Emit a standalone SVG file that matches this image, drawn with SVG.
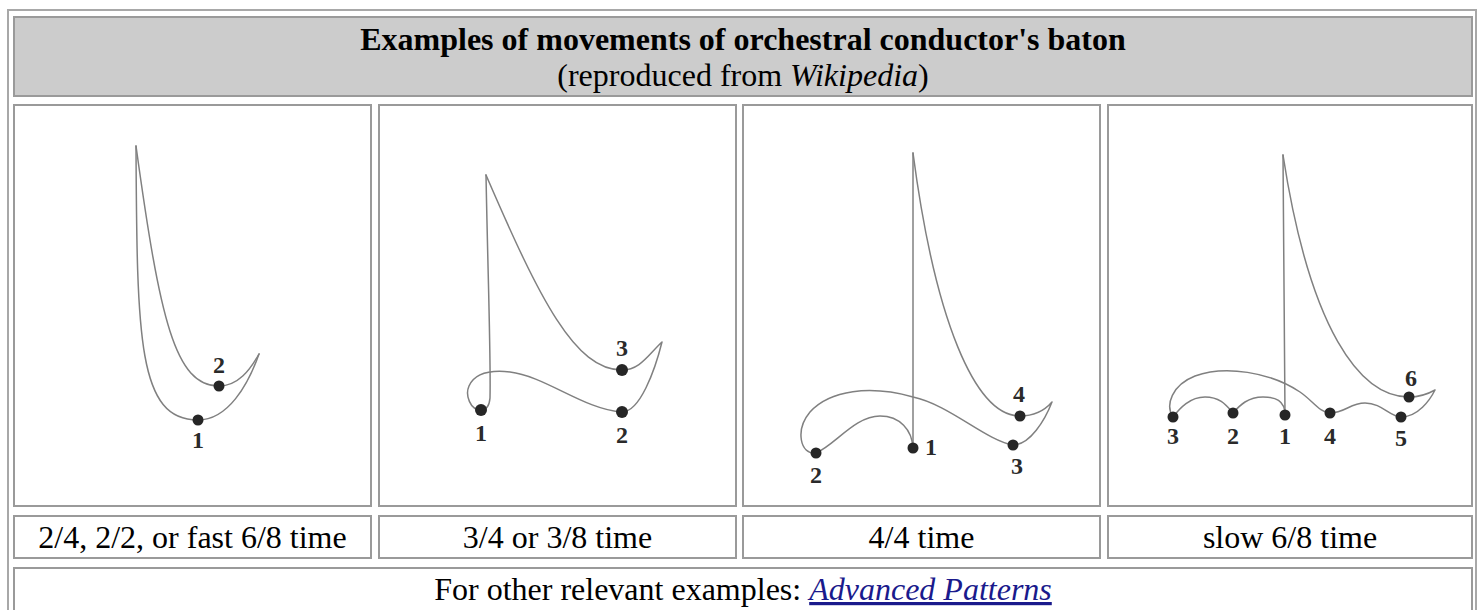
<svg xmlns="http://www.w3.org/2000/svg" width="1482" height="610" viewBox="0 0 1482 610">
<style>
.cell{fill:#ffffff;stroke:#9a9a9a;stroke-width:2}
.hdr{fill:#cccccc;stroke:#9a9a9a;stroke-width:2}
.t{font-family:"Liberation Serif","Times New Roman",serif;font-size:32px;fill:#000;text-anchor:middle}
.b{stroke:#808080;stroke-width:1.5;fill:none;stroke-linecap:round;stroke-linejoin:round}
.d{fill:#262626}
.n{font-family:"Liberation Serif","Times New Roman",serif;font-weight:bold;font-size:24px;fill:#2a2a2a;text-anchor:middle}
.lnk{fill:#1a1a8c;font-style:italic;text-decoration:underline}
</style>
<rect x="0" y="0" width="1482" height="610" fill="#ffffff"/>
<g id="table">
<rect x="8" y="10" width="1468" height="620" fill="#ffffff" stroke="#a8a8a8" stroke-width="2"/>
</g>
<g id="header">
<rect class="hdr" x="14" y="17" width="1458" height="79"/>
<text class="t" x="743" y="50" font-weight="bold">Examples of movements of orchestral conductor's baton</text>
<text class="t" x="743" y="86">(reproduced from <tspan font-style="italic">Wikipedia</tspan>)</text>
</g>
<g id="panel1">
<rect class="cell" x="14" y="105" width="357" height="401"/>
<path class="b" d="M136,146 C137,340 138,420 198,420 C228,420 248,385 259,354"/>
<path class="b" d="M136,146 C160,320 175,386 219,386 C238,386 250,370 259,354"/>
<circle class="d" cx="198" cy="420" r="5.5"/>
<circle class="d" cx="219" cy="386" r="5.5"/>
<text class="n" x="198" y="448">1</text>
<text class="n" x="219" y="373">2</text>
</g>
<g id="panel2">
<rect class="cell" x="379" y="105" width="357" height="401"/>
<path class="b" d="M486,175 C488,280 491,360 490,398 Q489,410 481,410"/>
<path class="b" d="M481,410 C470,410 465,395 469,386 C475,373 492,370 510,372 C545,376 585,410 622,412 C640,412 655,370 662,342 C648,355 640,370 622,370 C575,370 540,300 486,175"/>
<circle class="d" cx="481" cy="410" r="6"/>
<circle class="d" cx="622" cy="412" r="6"/>
<circle class="d" cx="622" cy="370" r="6"/>
<text class="n" x="481" y="441">1</text>
<text class="n" x="622" y="443">2</text>
<text class="n" x="622" y="356">3</text>
</g>
<g id="panel3">
<rect class="cell" x="743" y="105" width="357" height="401"/>
<path class="b" d="M913,153 L913,448"/>
<path class="b" d="M913,448 C912,430 900,416 880,416 C855,416 835,445 816,453 C800,455 795,430 810,412 C830,390 870,385 913,397 C950,405 985,440 1013,445 C1030,445 1045,420 1052,402 C1045,410 1035,416 1020,416 C975,416 935,320 913,153"/>
<circle class="d" cx="913" cy="448" r="5.5"/>
<circle class="d" cx="816" cy="453" r="5.5"/>
<circle class="d" cx="1013" cy="445" r="5.5"/>
<circle class="d" cx="1020" cy="416" r="5.5"/>
<text class="n" x="931" y="455">1</text>
<text class="n" x="816" y="483">2</text>
<text class="n" x="1017" y="474">3</text>
<text class="n" x="1019" y="402">4</text>
</g>
<g id="panel4">
<rect class="cell" x="1108" y="105" width="364" height="401"/>
<path class="b" d="M1283,155 L1285,415"/>
<path class="b" d="M1285,415 C1285,400 1275,397 1263,397 C1248,397 1240,405 1233,413 C1226,405 1220,397 1205,397 C1190,397 1180,408 1173,417 C1165,405 1172,385 1195,376 C1225,365 1270,372 1300,392 C1312,400 1320,413 1330,413 C1345,413 1350,403 1365,403 C1382,403 1390,417 1401,417 C1418,417 1430,400 1435,390 C1428,394 1420,397 1409,397 C1360,397 1310,330 1283,155"/>
<circle class="d" cx="1285" cy="415" r="5.5"/>
<circle class="d" cx="1233" cy="413" r="5.5"/>
<circle class="d" cx="1173" cy="417" r="5.5"/>
<circle class="d" cx="1330" cy="413" r="5.5"/>
<circle class="d" cx="1401" cy="417" r="5.5"/>
<circle class="d" cx="1409" cy="397" r="5.5"/>
<text class="n" x="1285" y="444">1</text>
<text class="n" x="1233" y="444">2</text>
<text class="n" x="1173" y="444">3</text>
<text class="n" x="1330" y="444">4</text>
<text class="n" x="1401" y="446">5</text>
<text class="n" x="1411" y="386">6</text>
</g>
<g id="labels">
<rect class="cell" x="14" y="516" width="357" height="42"/>
<rect class="cell" x="379" y="516" width="357" height="42"/>
<rect class="cell" x="743" y="516" width="357" height="42"/>
<rect class="cell" x="1108" y="516" width="364" height="42"/>
<text class="t" x="192.5" y="548">2/4, 2/2, or fast 6/8 time</text>
<text class="t" x="557.5" y="548">3/4 or 3/8 time</text>
<text class="t" x="921.5" y="548">4/4 time</text>
<text class="t" x="1290" y="548">slow 6/8 time</text>
</g>
<g id="footer">
<rect class="cell" x="14" y="568" width="1458" height="60"/>
<text class="t" x="743" y="600">For other relevant examples: <tspan class="lnk">Advanced Patterns</tspan></text>
</g>
</svg>
